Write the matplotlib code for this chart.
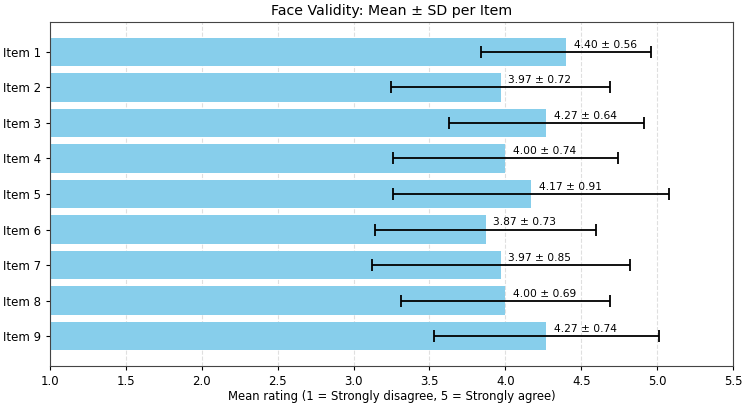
import matplotlib
matplotlib.use("Agg")
import matplotlib.pyplot as plt
import numpy as np

items = [f"Item {i}" for i in range(1, 10)]
means = [4.40, 3.97, 4.27, 4.00, 4.17, 3.87, 3.97, 4.00, 4.27]
sds = [0.56, 0.72, 0.64, 0.74, 0.91, 0.73, 0.85, 0.69, 0.74]

fig, ax = plt.subplots(figsize=(7.45, 4.05), dpi=100)
y = np.arange(len(items))
ax.barh(y, means, xerr=sds, color="skyblue", height=0.8, capsize=4.5,
        error_kw=dict(ecolor="black", elinewidth=1.3, capthick=1.3),
        zorder=2)
for yi, m, s in zip(y, means, sds):
    ax.text(m + 0.05, yi - 0.2, f"{m:.2f} \u00b1 {s:.2f}",
            va="center", ha="left", fontsize=7.7, zorder=3)

ax.set_yticks(y)
ax.set_yticklabels(items)
ax.invert_yaxis()
ax.set_xlim(1.0, 5.5)
ax.set_xticks(np.arange(1.0, 5.51, 0.5))
ax.tick_params(labelsize=8.5, length=3)
ax.grid(axis="x", linestyle="--", alpha=0.4, zorder=0)
ax.set_axisbelow(True)
for sp in ax.spines.values():
    sp.set_color("#444444")
ax.set_xlabel("Mean rating (1 = Strongly disagree, 5 = Strongly agree)",
              fontsize=8.4, labelpad=1)
ax.set_title("Face Validity: Mean \u00b1 SD per Item", fontsize=10.2, pad=5)

fig.subplots_adjust(left=0.067, right=0.984, top=0.946, bottom=0.096)
fig.savefig("out.png", dpi=100)
